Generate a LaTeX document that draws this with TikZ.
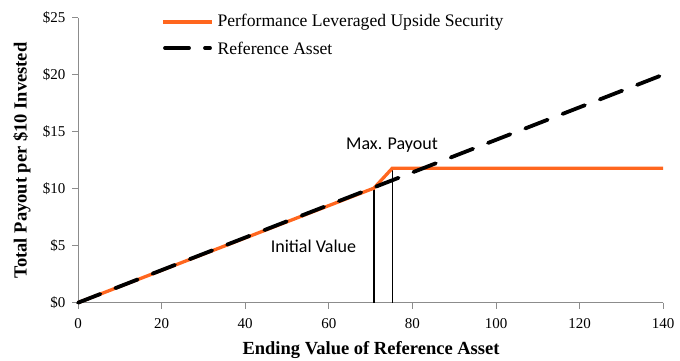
\documentclass[tikz,border=0pt]{standalone}
\usepackage{fontspec}
\setmainfont{Liberation Serif}
\newfontfamily\calib{Carlito}
\definecolor{orng}{RGB}{255,102,30}
\definecolor{axgray}{RGB}{140,140,140}
\begin{document}
\begin{tikzpicture}[x=1pt,y=1pt,
  tick/.style={font=\fontsize{15}{15}\selectfont},
  axtitle/.style={font=\fontsize{18.5}{18.5}\selectfont\bfseries},
  note/.style={font=\calib\fontsize{18}{18}\selectfont},
  legtext/.style={font=\fontsize{17.6}{17.6}\selectfont, anchor=west},
  orline/.style={orng, line width=3.3pt},
  refline/.style={black, line width=3.8pt, line cap=round, dash pattern=on 24pt off 16pt},
  axline/.style={axgray, line width=1pt}]
\useasboundingbox (0,0) rectangle (680,360);
\begin{scope}[shift={(78,57.3)}, x=4.18pt, y=11.4pt]
  % axes
  \draw[axline] (0,0) -- (0,25);
  \draw[axline] (0,0) -- (140,0);
  \foreach \v in {0,5,...,25} {
    \draw[axline] (0,\v) -- ++(-6pt,0);
    \node[tick, anchor=east] (yl\v) at ([xshift=-9pt]0,\v) {\$\v};
  }
  \foreach \v in {0,20,...,140} {
    \draw[axline] (\v,0) -- ++(0,-6pt);
    \node[tick] (xl\v) at ([yshift=-21pt]\v,0) {\v};
  }
  % data
  \coordinate (o) at (0,0);
  \coordinate (k) at (70.8,10.05);
  \coordinate (p) at (75.2,11.8);
  \coordinate (e) at (140,11.8);
  \coordinate (r) at (140,20);
  \coordinate (kb) at (70.8,0);
  \coordinate (pb) at (75.2,0);
  \draw[black, line width=1.6pt] (kb) -- (k);
  \draw[black, line width=1.6pt] (pb) -- (p);
  \draw[orline, line join=miter] (o) -- (k) -- (p) -- (e);
  \draw[refline] (o) -- (r);
\end{scope}
% labels
\node[note] (mp) at (392,215) {Max. Payout};
\node[note] (iv) at (313.5,114) {Initial Value};
\node[axtitle] (xt) at (371,10) {Ending Value of Reference Asset};
\node[axtitle, rotate=90] (yt) at (22,199.5) {Total Payout per \$10 Invested};
% legend
\coordinate (l1a) at (163,338);
\coordinate (l1b) at (212,338);
\coordinate (l2a) at (165,312);
\coordinate (l2b) at (210,312);
\draw[orline] (l1a) -- (l1b);
\draw[refline] (l2a) -- (l2b);
\node[legtext] (lt1) at (214,338) {Performance Leveraged Upside Security};
\node[legtext] (lt2) at (214,312) {Reference Asset};
\end{tikzpicture}
\end{document}
